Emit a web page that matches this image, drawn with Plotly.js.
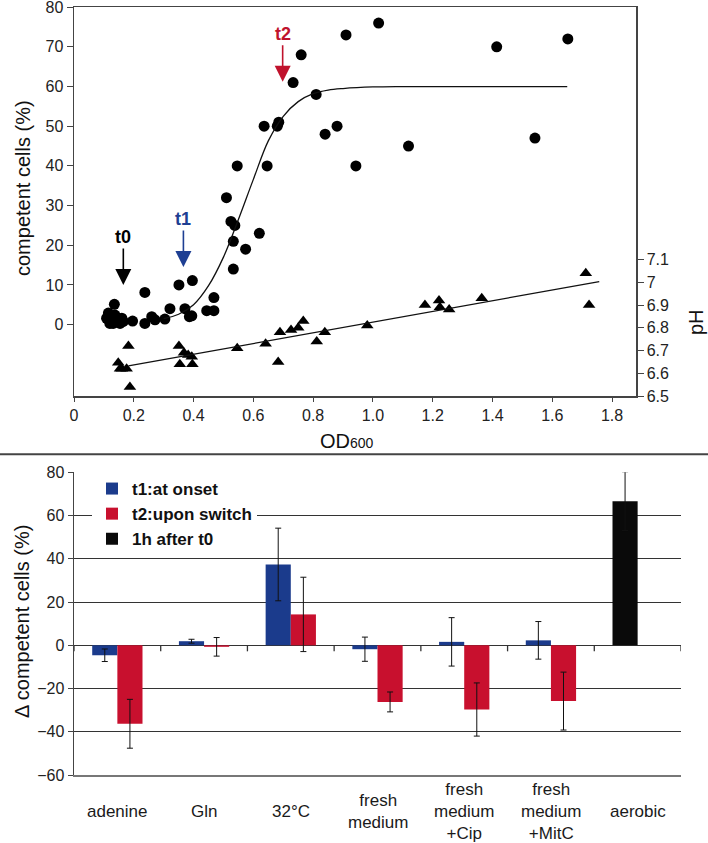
<!DOCTYPE html>
<html>
<head>
<meta charset="utf-8">
<script src="https://cdn.plot.ly/plotly-3.0.1.min.js"></script>
<style>html,body{margin:0;padding:0;background:#fff;}</style>
</head>
<body>
<div id="chart" style="width:708px;height:843px;"></div>
<script>
// ---- Top panel: competent cells vs OD600 ----
const odCompetent = [0.109,0.115,0.12,0.131,0.137,0.135,0.148,0.154,0.16,0.165,
  0.196,0.237,0.237,0.26,0.271,0.304,0.321,0.351,0.396,0.371,0.386,0.394,0.444,0.468,0.468,
  0.51,0.525,0.538,0.533,0.533,0.574,0.62,0.546,0.636,0.646,0.68,0.685,0.733,0.76,0.81,
  0.84,0.88,0.91,0.943,1.019,1.119,1.414,1.542,1.652];
const competentPct = [1.6,2.9,0.3,0.3,2.4,5.1,1.2,0.3,1.6,0.8,
  0.9,0.3,8.1,2.0,1.2,1.4,4.0,10,11.1,4.0,2.0,2.2,3.5,3.5,6.8,
  32,26,25,21,14,19,23,40,50,40,50,51,61,68,58,
  48,50,73,40,76,45,70,47,72];

const odPH = [0.148,0.154,0.16,0.176,0.182,0.187,0.351,0.354,0.368,0.382,0.394,0.396,
  0.546,0.641,0.683,0.689,0.726,0.75,0.767,0.812,0.839,0.981,1.174,1.221,1.224,1.255,1.364,1.712,1.723];
const pHValues = [6.646,6.62,6.62,6.62,6.72,6.54,6.72,6.64,6.69,6.68,6.672,6.64,
  6.71,6.73,6.65,6.78,6.79,6.80,6.83,6.74,6.78,6.81,6.90,6.92,6.89,6.88,6.93,7.04,6.90];

const fitCompOD  = [0.30,0.35,0.40,0.45,0.50,0.55,0.60,0.65,0.70,0.75,0.80,0.85,0.90,1.00,1.10,1.65];
const fitCompPct = [1.5,2.6,5.0,9.8,17.0,26.5,36.6,46.3,52.5,56.2,58.2,59.1,59.5,59.9,60,60];
const fitPHOD  = [0.182,1.757];
const fitPHVal = [6.632,7.003];

const xTickVals = [0,0.2,0.4,0.6,0.8,1.0,1.2,1.4,1.6,1.8];
const xTickText = ['0','0.2','0.4','0.6','0.8','1.0','1.2','1.4','1.6','1.8'];
const yTickVals = [0,10,20,30,40,50,60,70,80];
const pHTickVals = [6.5,6.6,6.7,6.8,6.9,7.0,7.1];
const pHTickText = ['6.5','6.6','6.7','6.8','6.9','7','7.1'];

// time-point markers
const timeLabels = ['t0','t1','t2'];
const timeOD     = [0.165,0.366,0.698];
const timeTipPct = [10,14.5,61.2];

// ---- Bottom panel: delta competent cells ----
const categories = ['adenine','Gln','32°C','fresh medium','fresh medium +Cip','fresh medium +MitC','aerobic'];
const categoryLabels = ['adenine','Gln','32°C','fresh<br>medium','fresh<br>medium<br>+Cip','fresh<br>medium<br>+MitC','aerobic'];
const t1Values = [-4.6,1.9,37.4,-1.8,1.6,2.3];
const t1Errors = [2.9,0.9,16.8,5.6,11.2,8.7];
const t2Values = [-36.3,-0.7,14.3,-26.2,-29.7,-25.8];
const t2Errors = [11.3,4.3,17.2,4.6,12.3,13.4];
const h1Category = ['aerobic'];
const h1Values = [66.7];
const h1Errors = [13.6];
const seriesNames = ['t1:at onset','t2:upon switch','1h after t0'];

const BLUE = '#1b3b8c', RED = '#c8102e', BLACK = '#0a0a0a';
const FONT = 'Liberation Sans, Arial, sans-serif';
const AX = '#444';

const traces = [
  {x: odCompetent, y: competentPct, type:'scatter', mode:'markers', xaxis:'x', yaxis:'y',
   marker:{symbol:'circle', size:11, color:'#000'}, showlegend:false, hoverinfo:'skip'},
  {x: fitCompOD, y: fitCompPct, type:'scatter', mode:'lines', xaxis:'x', yaxis:'y',
   line:{color:'#111', width:1.3, shape:'spline'}, showlegend:false},
  {x: odPH, y: pHValues, type:'scatter', mode:'markers', xaxis:'x', yaxis:'y3',
   marker:{symbol:'triangle-up', size:11, color:'#000'}, showlegend:false},
  {x: fitPHOD, y: fitPHVal, type:'scatter', mode:'lines', xaxis:'x', yaxis:'y3',
   line:{color:'#111', width:1.3}, showlegend:false},
  {x: categories.slice(0,6), y: t1Values, type:'bar', name: seriesNames[0], xaxis:'x2', yaxis:'y2',
   marker:{color:BLUE}, offset:-0.29, width:0.29,
   error_y:{type:'data', array:t1Errors, visible:true, color:'#111', thickness:1, width:3}},
  {x: categories.slice(0,6), y: t2Values, type:'bar', name: seriesNames[1], xaxis:'x2', yaxis:'y2',
   marker:{color:RED}, offset:0, width:0.29,
   error_y:{type:'data', array:t2Errors, visible:true, color:'#111', thickness:1, width:3}},
  {x: h1Category, y: h1Values, type:'bar', name: seriesNames[2], xaxis:'x2', yaxis:'y2',
   marker:{color:BLACK}, offset:-0.29, width:0.29,
   error_y:{type:'data', array:h1Errors, visible:true, color:'#111', thickness:1, width:3}}
];

// paper coordinate helpers (margins l=74, r=27, t=7, b=68)
const PW = 708-74-27, PH = 843-7-68;
const px = p => (p-74)/PW;
const py = p => (843-68-p)/PH;

const timeColors = ['#000', '#1e3f93', '#c0122c'];
const annotations = [];
timeLabels.forEach((t,i) => {
  annotations.push({x: timeOD[i], y: timeTipPct[i], xref:'x', yref:'y', text: t,
    showarrow:true, arrowhead:2, arrowsize:2, arrowwidth:1.6, arrowcolor: timeColors[i],
    ax:0, ay:-48, font:{family:FONT, size:18, color: timeColors[i], weight:'bold'}});
});
const titleFont = {family:FONT, size:20, color:'#111'};
annotations.push({x: px(23), y: py(188), xref:'paper', yref:'paper', text:'competent cells (%)',
  xanchor:'center', yanchor:'middle', textangle:-90, showarrow:false, font:titleFont});
annotations.push({x: px(696), y: py(322), xref:'paper', yref:'paper', text:'pH',
  xanchor:'center', yanchor:'middle', textangle:-90, showarrow:false, font:titleFont});
annotations.push({x: px(347), y: py(441), xref:'paper', yref:'paper',
  xanchor:'center', yanchor:'middle',
  text:'OD<span style="font-size:14px">600</span>', showarrow:false, font:titleFont});
annotations.push({x: px(22), y: py(622), xref:'paper', yref:'paper', text:'Δ competent cells (%)',
  xanchor:'center', yanchor:'middle', textangle:-90, showarrow:false, font:titleFont});
categories.forEach((c,i) => {
  annotations.push({x: c, y: py(811.7), xref:'x2', yref:'paper', text: categoryLabels[i],
    xanchor:'center', yanchor:'middle', showarrow:false, font:{family:FONT, size:17, color:'#1a1a1a'}});
});

const shapes = [
  {type:'line', xref:'paper', yref:'paper', x0: px(0), x1: px(708), y0: py(454.3), y1: py(454.3),
   line:{color:'#444', width:2}}
];
for (let i = 0; i <= categories.length; i++) {
  shapes.push({type:'line', xref:'x2', yref:'y2', ysizemode:'pixel', yanchor:0,
    x0: i-0.5, x1: i-0.5, y0: 0, y1: -6, line:{color:'#333', width:1.3}});
}

const tickFont = {family:FONT, size:16, color:'#222'};
const layout = {
  width:708, height:843,
  margin:{l:74, r:27, t:7, b:68},
  paper_bgcolor:'#fff', plot_bgcolor:'#fff',
  font:{family:FONT, size:16, color:'#222'},
  barmode:'overlay',
  xaxis:{domain:[0, px(636)], range:[0,1.88], anchor:'y', tickmode:'array',
    tickvals:xTickVals, ticktext:xTickText, tickfont:tickFont, showline:true, mirror:true, linecolor:AX, linewidth:1.5,
    ticks:'outside', ticklen:4, tickcolor:AX, showgrid:false, zeroline:false},
  yaxis:{domain:[py(396), 1], range:[-18,80.05], anchor:'x', tickmode:'array', tickvals:yTickVals,
    tickfont:tickFont, ticklabeloverflow:'allow', showline:true, mirror:true, linecolor:AX, linewidth:1.5,
    ticks:'outside', ticklen:6, tickcolor:AX, showgrid:false, zeroline:false},
  yaxis3:{overlaying:'y', side:'right', anchor:'x', range:[6.5,8.21], tickmode:'array',
    tickvals:pHTickVals, ticktext:pHTickText, tickfont:tickFont, showline:true, linecolor:AX, linewidth:1.5,
    ticks:'outside', ticklen:6, tickcolor:AX, showgrid:false, zeroline:false},
  xaxis2:{domain:[0,1], anchor:'y2', type:'category', categoryorder:'array', categoryarray:categories,
    range:[-0.5,6.5], showticklabels:false, ticks:'', showline:true, linecolor:'#777', linewidth:1.5,
    showgrid:false, zeroline:false},
  yaxis2:{domain:[0, py(472.3)], anchor:'x2', range:[-60,80.05], tickmode:'array',
    tickvals:[-60,-40,-20,0,20,40,60,80], tickfont:tickFont, ticklabeloverflow:'allow',
    showgrid:true, gridcolor:'#333', gridwidth:1,
    zeroline:true, zerolinecolor:'#333', zerolinewidth:1.5, showline:true, linecolor:AX, linewidth:1.5,
    ticks:'outside', ticklen:5, tickcolor:AX},
  showlegend:true,
  legend:{x: px(92), y: py(471), xanchor:'left', yanchor:'top', bgcolor:'#fff', borderwidth:0,
    font:{family:FONT, size:17, color:'#111', weight:'bold'}, tracegroupgap:0},
  annotations: annotations,
  shapes: shapes
};

Plotly.newPlot('chart', traces, layout, {displayModeBar:false, staticPlot:true});
</script>
</body>
</html>
